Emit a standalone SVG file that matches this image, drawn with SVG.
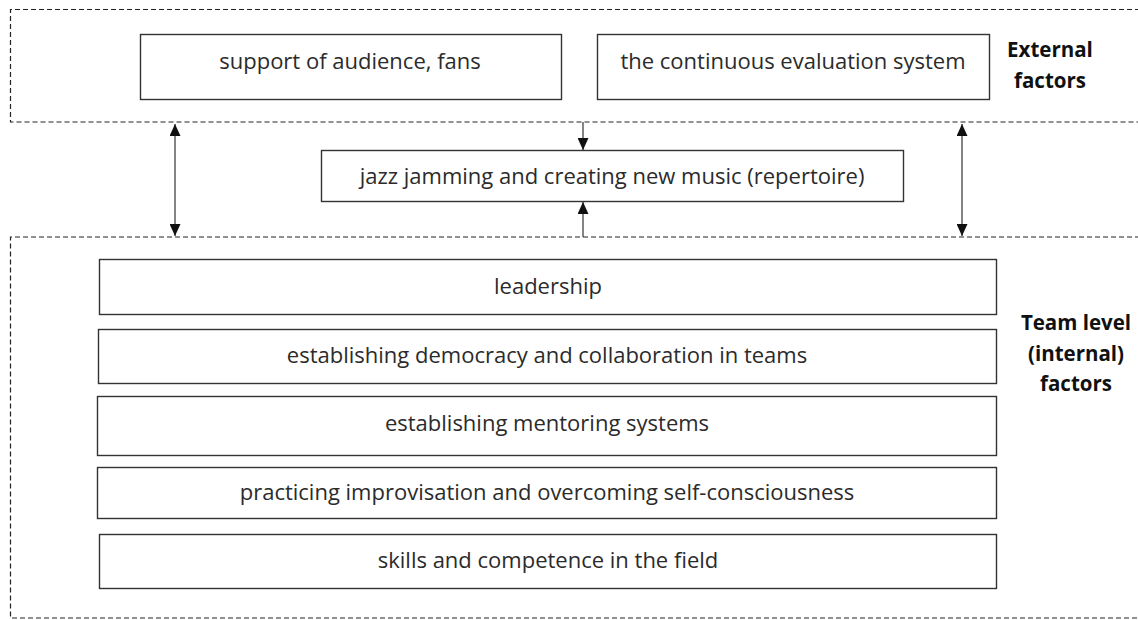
<svg xmlns="http://www.w3.org/2000/svg" width="1138" height="620" viewBox="0 0 1138 620">
  <defs>
    <marker id="head" viewBox="0 0 10 10" refX="10" refY="5" markerWidth="12" markerHeight="11" markerUnits="userSpaceOnUse" orient="auto-start-reverse" preserveAspectRatio="none">
      <path d="M0,0 L10,5 L0,10 Z" fill="#111"/>
    </marker>
    <style>
      .zone { fill: none; stroke: #222; stroke-width: 1.2; stroke-dasharray: 5 3; }
      .box { fill: #fff; stroke: #333; stroke-width: 1.4; }
      .lbl { font-family: "Open Sans", "Liberation Sans", sans-serif; font-size: 22px; fill: #2b2b2b; text-anchor: middle; }
      .side { font-family: "Open Sans", "Liberation Sans", sans-serif; font-size: 20.5px; font-weight: bold; fill: #111; text-anchor: middle; }
      .link { stroke: #333; stroke-width: 1.2; fill: none; }
    </style>
  </defs>

  <rect width="1138" height="620" fill="#fff"/>

  <!-- dashed zones: external (top) and team level (bottom) -->
  <g id="zones">
    <path class="zone" d="M1140,9.5 H10.5 V122 H1140"/>
    <path class="zone" d="M1140,237 H10.5 V618 H1140"/>
  </g>

  <g id="connectors">
    <line class="link" x1="175" y1="124" x2="175" y2="236" marker-start="url(#head)" marker-end="url(#head)"/>
    <line class="link" x1="962" y1="124" x2="962" y2="236" marker-start="url(#head)" marker-end="url(#head)"/>
    <line class="link" x1="583" y1="122" x2="583" y2="150" marker-end="url(#head)"/>
    <line class="link" x1="583" y1="237" x2="583" y2="202" marker-end="url(#head)"/>
  </g>

  <g id="support">
    <rect class="box" x="140.5" y="34.5" width="421" height="65"/>
    <text class="lbl" x="350" y="69">support of audience, fans</text>
  </g>
  <g id="evaluation">
    <rect class="box" x="597.5" y="34.5" width="392" height="65"/>
    <text class="lbl" x="793" y="69">the continuous evaluation system</text>
  </g>
  <g id="external-label">
    <text class="side" x="1050" y="57">External</text>
    <text class="side" x="1050" y="88">factors</text>
  </g>

  <g id="jazz">
    <rect class="box" x="321.5" y="150.5" width="582" height="51"/>
    <text class="lbl" x="612" y="184">jazz jamming and creating new music (repertoire)</text>
  </g>

  <g id="leadership">
    <rect class="box" x="99.5" y="259.5" width="897" height="55"/>
    <text class="lbl" x="548" y="294">leadership</text>
  </g>
  <g id="democracy">
    <rect class="box" x="98.5" y="329.5" width="898" height="54"/>
    <text class="lbl" x="547" y="363">establishing democracy and collaboration in teams</text>
  </g>
  <g id="mentoring">
    <rect class="box" x="97.5" y="396.5" width="899" height="59"/>
    <text class="lbl" x="547" y="431">establishing mentoring systems</text>
  </g>
  <g id="improvisation">
    <rect class="box" x="97.5" y="467.5" width="899" height="51"/>
    <text class="lbl" x="547" y="500">practicing improvisation and overcoming self-consciousness</text>
  </g>
  <g id="skills">
    <rect class="box" x="99.5" y="534.5" width="897" height="54"/>
    <text class="lbl" x="548" y="568">skills and competence in the field</text>
  </g>

  <g id="team-label">
    <text class="side" x="1076" y="330">Team level</text>
    <text class="side" x="1076" y="361">(internal)</text>
    <text class="side" x="1076" y="391">factors</text>
  </g>
</svg>
